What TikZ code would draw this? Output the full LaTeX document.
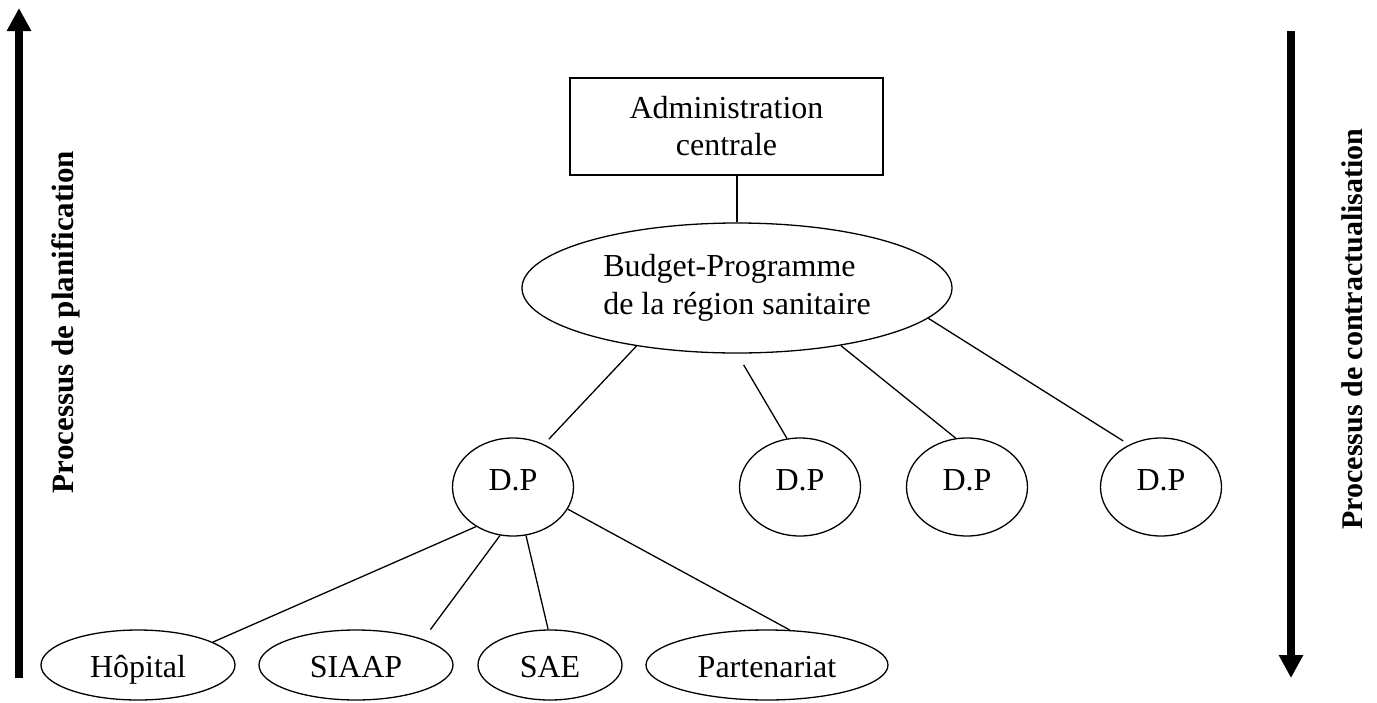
\documentclass[tikz,border=0pt]{standalone}
\usepackage{fontspec}
\setmainfont{Liberation Serif}
\usetikzlibrary{shapes.geometric,arrows.meta}
\begin{document}
\begin{tikzpicture}[x=1pt,y=-1pt,
  every node/.style={font=\fontsize{32}{37}\selectfont},
  box/.style={draw,line width=1.3pt,rectangle,inner sep=0pt,align=center},
  oval/.style={draw,line width=1.3pt,ellipse,inner sep=0pt},
  dpoval/.style={oval,minimum width=121pt,minimum height=98pt,text height=22pt,text depth=16pt},
  leaf/.style={oval,minimum height=70pt,text height=30pt,text depth=6pt},
  link/.style={line width=1.3pt},
  flow/.style={line width=8pt,-{Triangle[width=23pt,length=23pt]}},
  side/.style={rotate=90,anchor=base}]
\useasboundingbox (0,0) rectangle (1377,702);

% side arrows and their labels
\coordinate (lb) at (19,678);
\coordinate (lt) at (19,8);
\coordinate (rt) at (1291,31);
\coordinate (rb) at (1291,678);
\draw[flow] (lb) -- (lt);
\draw[flow] (rt) -- (rb);
\node[side,font=\fontsize{31}{36}\selectfont\bfseries] (plan) at (73,322)
  {Processus de planification};
\node[side,font=\fontsize{30}{35}\selectfont\bfseries] (contr) at (1362,329)
  {Processus de contractualisation};

% hierarchy
\node[box,minimum width=313pt,minimum height=97pt] (adm) at (726.5,126.5)
  {Administration\\centrale};
\node[oval,minimum width=430pt,minimum height=130pt,align=left,
      font=\fontsize{32}{38}\selectfont] (bp) at (737,288)
  {Budget-Programme\\de la région sanitaire};

\node[dpoval] (dp1) at (513,487) {D.P};
\node[dpoval] (dp2) at (800,487) {D.P};
\node[dpoval] (dp3) at (967,487) {D.P};
\node[dpoval] (dp4) at (1161,487) {D.P};

\node[leaf,minimum width=194pt] (hop) at (138,665) {Hôpital};
\node[leaf,minimum width=194pt] (siaap) at (356,665) {SIAAP};
\node[leaf,minimum width=144pt] (sae) at (550,665) {SAE};
\node[leaf,minimum width=242pt] (part) at (767,665) {Partenariat};

% connectors
\draw[link] (bp.north) -- (bp.north |- adm.south);
\draw[link,shorten >=7pt] (bp.210) -- (dp1.54);
\draw[link,shorten <=13pt] (bp.south) -- (dp2.105);
\draw[link] (bp.331) -- (dp3.103);
\draw[link,shorten >=7pt] (bp.351) -- (dp4.127);

\draw[link] (dp1.227) -- (hop.17);
\draw[link,shorten >=12pt] (dp1.255) -- (siaap.21);
\draw[link] (dp1.285) -- (sae.93);
\draw[link] (dp1.338) -- (part.57);
\end{tikzpicture}
\end{document}
